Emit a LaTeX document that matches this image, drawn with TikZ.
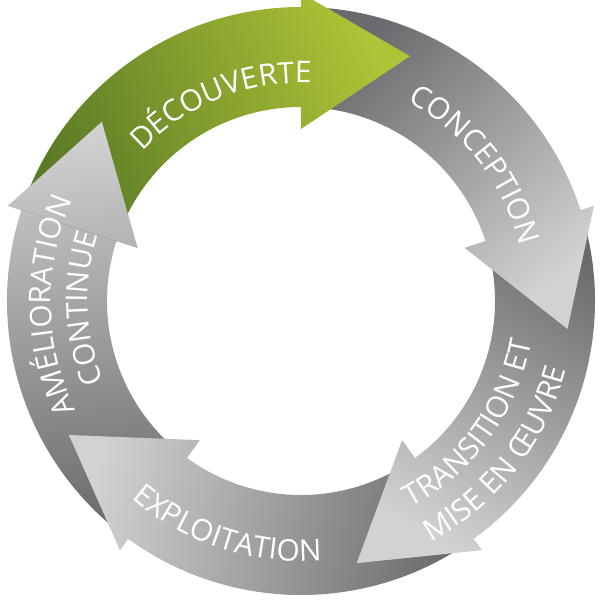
\documentclass[tikz,border=0pt]{standalone}
\usepackage{fontspec}
\setsansfont{Open Sans}
\usepackage{tikz}
\usetikzlibrary{decorations.text}
\definecolor{leafdark}{HTML}{5A7A26}
\definecolor{leaflight}{HTML}{AEC436}
\definecolor{steeldark}{HTML}{6A6A6E}
\definecolor{steellight}{HTML}{D2D2D2}
% ring and arrow head radii (1 unit = 1px)
\newcommand{\rin}{194}
\newcommand{\rout}{294}
\newcommand{\hin}{172}
\newcommand{\hout}{308}
\newcommand{\htip}{268}
\newcommand{\phasefont}{\sffamily\fontsize{17pt}{19pt}\selectfont}
% curved arrow: tail angle #1, head base angle #2
\newcommand{\phasepath}[2]{%
  (#1:\rout) arc[start angle=#1, end angle=#2, radius=\rout]
  -- (#2:\hout) -- (#2-24:\htip) -- (#2:\hin) -- (#2:\rin)
  arc[start angle=#2, end angle=#1, radius=\rin] -- cycle}
\tikzset{
    %Define style for the green phase
    leafphase/.style={
           top color=leaflight,
           bottom color=leafdark,
           shading angle=#1},
    %Define style for the grey phases
    steelphase/.style={
           top color=steellight,
           bottom color=steeldark,
           shading angle=#1},
    %Define style for the curved labels
    phaselabel/.style={
           decorate,
           decoration={text along path,
                       text align=center,
                       text color=white,
                       text={|\phasefont|#1}}}
}
\begin{document}
\begin{tikzpicture}[x=0.02cm,y=0.02cm]
\useasboundingbox (-301,-299) rectangle (299,301);
 %arrows, last one first
\path[steelphase=6]   \phasepath{-126}{-198};
\path[steelphase=78]  \phasepath{-54}{-126};
\path[steelphase=150] \phasepath{18}{-54};
\path[steelphase=-138]\phasepath{90}{18};
\path[leafphase=-66]  \phasepath{162}{90};
\begin{scope}
  \clip (-198:\hout) -- (-222:\htip) -- (-198:\hin) -- cycle;
  \path[steelphase=6] \phasepath{-126}{-198};
\end{scope}
 %labels
\path[phaselabel={DÉCOUVERTE}] (152:218) arc[start angle=152, end angle=72, radius=218];
\path[phaselabel={CONCEPTION}] (78:226) arc[start angle=78, end angle=-2, radius=226];
\path[phaselabel={TRANSITION ET}] (-76:234) arc[start angle=-76, end angle=4, radius=234];
\path[phaselabel={MISE EN ŒUVRE}] (-78:274) arc[start angle=-78, end angle=2, radius=274];
\path[phaselabel={EXPLOITATION}] (-148:260) arc[start angle=-148, end angle=-68, radius=260];
\path[phaselabel={AMÉLIORATION}] (221:250) arc[start angle=221, end angle=141, radius=250];
\path[phaselabel={CONTINUE}] (222:213) arc[start angle=222, end angle=142, radius=213];
\end{tikzpicture}
\end{document}
